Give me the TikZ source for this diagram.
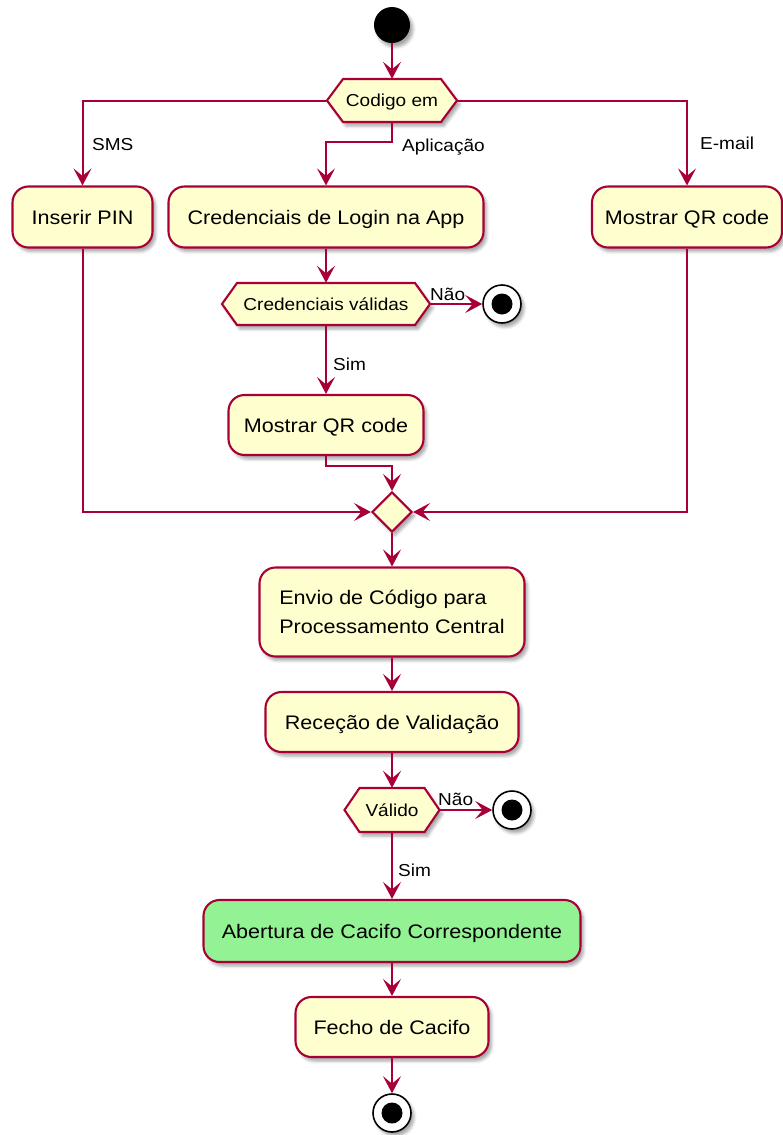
\documentclass[tikz,border=0pt]{standalone}
\usepackage{fontspec}
\setmainfont{Liberation Sans}[FakeStretch=1.1]
\usetikzlibrary{arrows.meta,shapes.geometric,shadows.blur}
\definecolor{umlred}{HTML}{A80036}
\definecolor{umlfill}{HTML}{FEFECE}
\definecolor{umlgreen}{HTML}{93F293}

\tikzset{
  softshadow/.style={blur shadow={shadow xshift=3pt,shadow yshift=-4pt,shadow blur radius=3pt,shadow opacity=35}},
  act/.style={draw=umlred, fill=umlfill, line width=2.1pt, rounded corners=16pt, softshadow,
    font=\fontsize{19.6}{29}\selectfont, inner sep=0pt},
  oneline/.style={text height=14pt, text depth=0pt},
  dec/.style={inner sep=0pt, font=\fontsize{17.3}{20}\selectfont, text height=12.4pt, text depth=0pt},
  hexa/.style={draw=umlred, fill=umlfill, line width=2.1pt, softshadow},
  lbl/.style={inner sep=0pt, anchor=west, font=\fontsize{17.3}{20}\selectfont, text height=12.4pt, text depth=0pt},
  flow/.style={draw=umlred, line width=2pt, -{Stealth[length=17pt,width=18pt,inset=7.5pt]}},
  startnode/.style={circle, fill=black, minimum size=36pt, inner sep=0pt, softshadow},
  endnode/.style={circle, draw=black, fill=white, line width=1.6pt, minimum size=38pt, inner sep=0pt, softshadow,
    path picture={\fill[black] (path picture bounding box.center) circle (10.5pt);}},
  joinbox/.style={diamond, draw=umlred, fill=umlfill, line width=2.1pt, minimum width=40pt, minimum height=40pt,
    inner sep=0pt, softshadow},
}

% hexagonal decision outline: centre x, centre y, half width, half height, tip inset
\newcommand\hexoutline[5]{%
  \path[hexa] (#1-#3,#2) -- (#1-#3+#5,#2-#4) -- (#1+#3-#5,#2-#4) -- (#1+#3,#2)
    -- (#1+#3-#5,#2+#4) -- (#1-#3+#5,#2+#4) -- cycle;}

\begin{document}
\begin{tikzpicture}[x=1pt,y=-1pt]
\useasboundingbox (0,0) rectangle (783,1135);

% nodes
\node[startnode] (start) at (392,25) {};
\hexoutline{392}{100.5}{65}{21.5}{16}
\node[dec, minimum width=130pt, minimum height=43pt] (d1) at (392,100.5) {Codigo em};

\node[act, oneline, minimum width=140pt, minimum height=61pt] (pin) at (82.5,217) {Inserir PIN};
\node[act, oneline, minimum width=315pt, minimum height=61pt] (cred) at (326,217) {Credenciais de Login na App};
\node[act, oneline, minimum width=190pt, minimum height=61pt] (qrmail) at (687,217) {Mostrar QR code};

\hexoutline{326}{304}{104}{21}{15}
\node[dec, minimum width=208pt, minimum height=42pt] (d2) at (326,304) {Credenciais válidas};
\node[endnode] (end1) at (502,304) {};

\node[act, oneline, minimum width=195pt, minimum height=60pt] (qrapp) at (326,425) {Mostrar QR code};
\node[joinbox] (join) at (392,512) {};

\node[act, align=left, minimum width=265pt, minimum height=89pt] (envio) at (392,612) {Envio de Código para\\Processamento Central};
\node[act, oneline, minimum width=253pt, minimum height=60pt] (recv) at (392,722) {Receção de Validação};

\hexoutline{392}{810}{47.5}{22}{15}
\node[dec, minimum width=95pt, minimum height=44pt] (d3) at (392,810) {Válido};
\node[endnode] (end2) at (512,810) {};

\node[act, oneline, fill=umlgreen, minimum width=377pt, minimum height=62pt] (open) at (392,931) {Abertura de Cacifo Correspondente};
\node[act, oneline, minimum width=193pt, minimum height=60pt] (close) at (392,1027) {Fecho de Cacifo};
\node[endnode] (end3) at (392,1113) {};

% connectors
\draw[flow] (start) -- (d1.north);
\draw[flow] (d1.west) -| (pin.north);
\draw[flow] (d1.south) -- ++(0,20) -| (cred.north);
\draw[flow] (d1.east) -| (qrmail.north);
\draw[flow] (cred.south) -- (d2.north);
\draw[flow] (d2.east) -- (end1);
\draw[flow] (d2.south) -- (qrapp.north);
\draw[flow] (qrapp.south) -- ++(0,10) -| (join.north);
\draw[flow] (pin.south) |- (join.west);
\draw[flow] (qrmail.south) |- (join.east);
\draw[flow] (join.south) -- (envio.north);
\draw[flow] (envio.south) -- (recv.north);
\draw[flow] (recv.south) -- (d3.north);
\draw[flow] (d3.east) -- (end2);
\draw[flow] (d3.south) -- (open.north);
\draw[flow] (open.south) -- (close.north);
\draw[flow] (close.south) -- (end3);

% branch labels
\node[lbl] (lsms) at (92,144) {SMS};
\node[lbl] (lapp) at (402,145) {Aplicação};
\node[lbl] (lmail) at (700,143) {E-mail};
\node[lbl] (lnao1) at (430,294) {Não};
\node[lbl] (lsim1) at (333,364) {Sim};
\node[lbl] (lnao2) at (438,799) {Não};
\node[lbl] (lsim2) at (398,870) {Sim};
\end{tikzpicture}
\end{document}
